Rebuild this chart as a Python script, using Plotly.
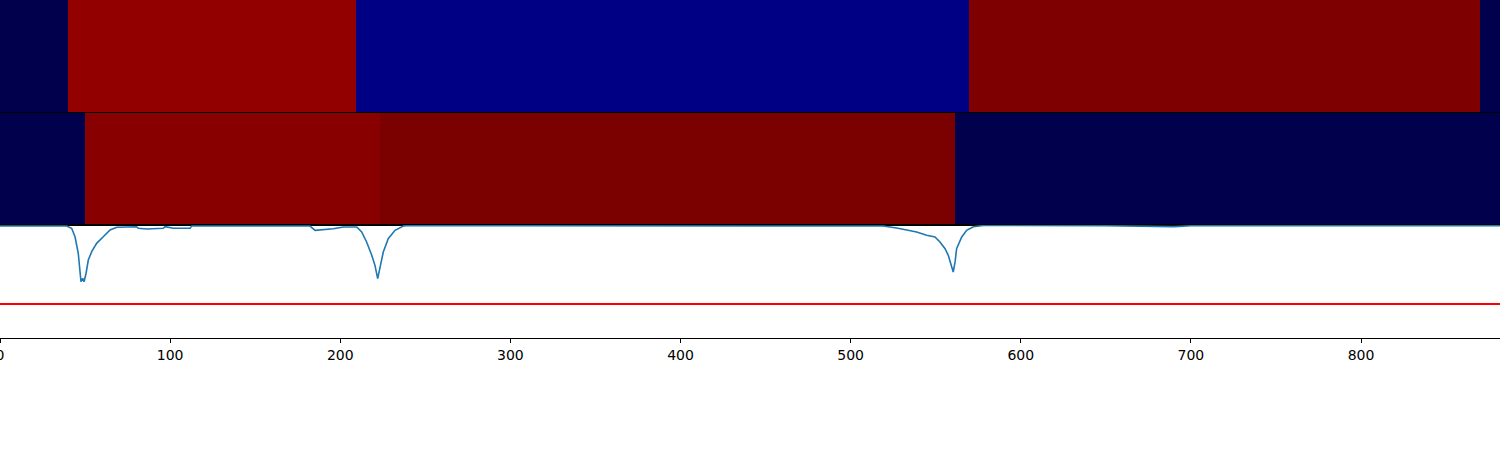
import plotly.graph_objects as go
from plotly.subplots import make_subplots

# ---------------- data ----------------
X_MAX = 881.7

# colour levels shared by both state rows
palette = ['#00004c', '#000084', '#920000', '#880000', '#7f0000', '#7b0000']

# top state row: segment edges and level index per segment
top_edges = [0, 40.0, 209.3, 569.5, 870.0, X_MAX]
top_levels = [0, 2, 1, 4, 0]

# middle state row
mid_edges = [0, 50.0, 223.4, 561.4, X_MAX]
mid_levels = [0, 3, 5, 0]

# bottom signal (key points)
sig_x = [0, 39.2, 42.1, 44.1, 46.0, 47.0, 47.6, 48.6, 49.4, 50.6, 51.9, 53.9, 56.8,
         60.7, 64.7, 68.6, 74.5, 80.3, 81.3, 86.2, 96.0, 97.0, 101.9, 111.7, 112.7,
         150.0, 176.3, 182.2, 185.2, 195.9, 201.8, 209.7, 212.6, 215.5, 218.5, 220.4,
         222.0, 223.4, 225.3, 228.2, 232.2, 237.1, 239.1, 300.0, 400.0, 470.0, 505.0,
         519.2, 527.1, 538.8, 544.7, 549.6, 552.5, 555.5, 557.4, 559.4, 560.3, 561.4,
         562.3, 565.3, 568.2, 572.1, 578.0, 650.0, 676.0, 690.0, 700.0, 800.0, 881.7]
sig_y = [0.991, 0.991, 0.971, 0.896, 0.750, 0.602, 0.498, 0.528, 0.498, 0.573, 0.690,
         0.764, 0.838, 0.896, 0.956, 0.980, 0.985, 0.985, 0.971, 0.965, 0.971, 0.985,
         0.971, 0.971, 0.991, 0.992, 0.994, 0.991, 0.953, 0.967, 0.982, 0.982, 0.938,
         0.850, 0.732, 0.643, 0.525, 0.613, 0.761, 0.879, 0.953, 0.991, 0.994, 0.993,
         0.993, 0.994, 0.991, 0.991, 0.973, 0.938, 0.909, 0.894, 0.850, 0.790, 0.732,
         0.643, 0.584, 0.673, 0.790, 0.894, 0.953, 0.985, 0.996, 0.993, 0.986, 0.986,
         0.993, 0.993, 0.993]
threshold = 0.30

x_ticks = [0, 100, 200, 300, 400, 500, 600, 700, 800]

# ---------------- figure ----------------
n = len(palette)
colorscale = [[i / (n - 1), c] for i, c in enumerate(palette)]

fig = make_subplots(rows=3, cols=1, shared_xaxes=False, vertical_spacing=0)

fig.add_trace(go.Heatmap(z=[top_levels], x=top_edges, y=[0], colorscale=colorscale,
                         zmin=0, zmax=n - 1, showscale=False, hoverinfo='skip'),
              row=1, col=1)
fig.add_trace(go.Heatmap(z=[mid_levels], x=mid_edges, y=[0], colorscale=colorscale,
                         zmin=0, zmax=n - 1, showscale=False, hoverinfo='skip'),
              row=2, col=1)
fig.add_trace(go.Scatter(x=sig_x, y=sig_y, mode='lines',
                         line=dict(color='#1f77b4', width=1.6), showlegend=False),
              row=3, col=1)
fig.add_hline(y=threshold, line=dict(color='red', width=2), row=3, col=1)

H = 338.0
fig.update_layout(
    width=1500, height=450,
    margin=dict(l=0, r=0, t=0, b=450 - 338, pad=0, autoexpand=False),
    paper_bgcolor='white', plot_bgcolor='white',
    showlegend=False,
    font=dict(family='DejaVu Sans', size=14, color='black'),
)

axis_common = dict(showline=True, linecolor='black', linewidth=1, mirror=True,
                   showgrid=False, zeroline=False, automargin=False)

fig.update_layout(
    yaxis=dict(domain=[(H - 112) / H, 1.0], showticklabels=False, ticks='',
               range=[-0.5, 0.5], **axis_common),
    yaxis2=dict(domain=[113 / H, 225 / H], showticklabels=False, ticks='',
                range=[-0.5, 0.5], **axis_common),
    yaxis3=dict(domain=[0, 113 / H], showticklabels=False, ticks='',
                range=[0, 1], **axis_common),
    xaxis=dict(range=[0, X_MAX], showticklabels=False, ticks='', **axis_common),
    xaxis2=dict(range=[0, X_MAX], showticklabels=False, ticks='', **axis_common),
    xaxis3=dict(range=[0, X_MAX], tickvals=x_ticks, ticktext=[str(t) for t in x_ticks],
                ticks='outside', ticklen=4, tickwidth=1, tickcolor='black',
                ticklabeloverflow='allow',
                tickfont=dict(family='DejaVu Sans', size=14, color='black'),
                **axis_common),
)

fig.write_html("out.html", config={'responsive': False, 'displayModeBar': False},
               post_script="document.body.style.margin='0';document.body.style.padding='0';"
                           "document.documentElement.style.overflow='hidden';")
